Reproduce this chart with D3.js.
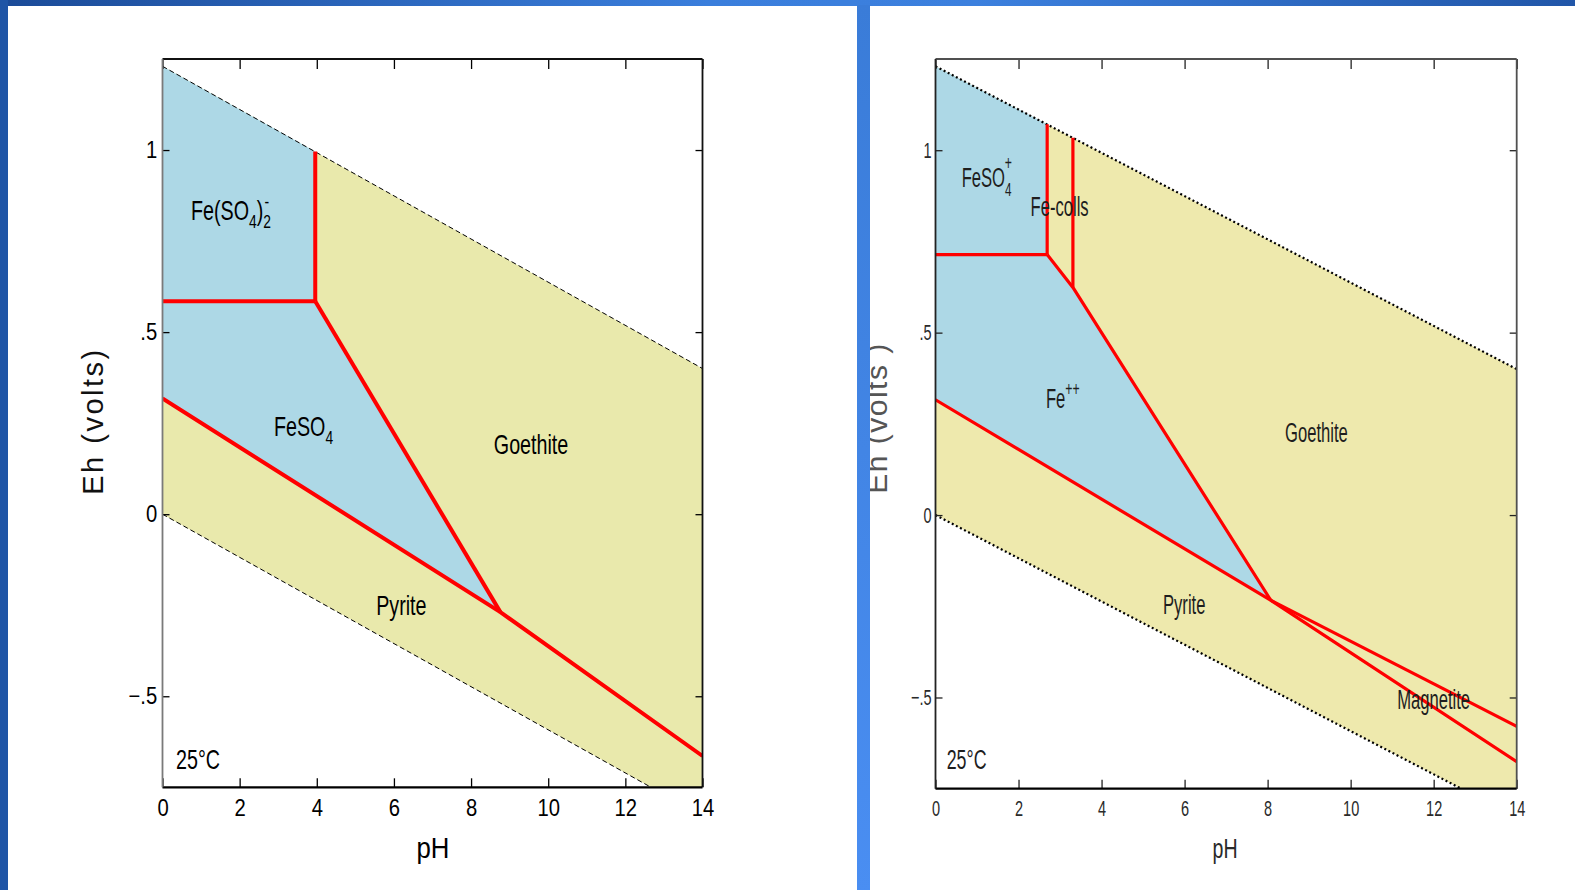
<!DOCTYPE html>
<html>
<head>
<meta charset="utf-8">
<script src="https://cdn.jsdelivr.net/npm/d3@7"></script>
<style>
  html, body { margin: 0; padding: 0; background: #fff; }
  svg { display: block; }
</style>
</head>
<body>
<svg id="chart" width="1575" height="890"></svg>
<script>
// ---- shared axis values ----
const pHTicks = [0, 2, 4, 6, 8, 10, 12, 14];
const ehTicks = [-0.5, 0, 0.5, 1];
const ehTickLabels = ["\u2212.5", "0", ".5", "1"];
const pHDomain = [0, 14];
const ehDomain = [-0.75, 1.25];

// water stability limits (Eh = 1.23 - 0.0592 pH and Eh = -0.0592 pH)
const waterUpper = [[0, 1.23], [14, 0.40]];
const waterLower = [[0, 0.0], [14, -0.829]];

// ---- Fe-S-O system, sulfate species (left diagram) ----
const leftSulfateSplit = [[0, 0.585], [3.96, 0.585]];
const leftGoethiteVertical = [[3.96, 0.996], [3.96, 0.585]];
const leftGoethiteEdge = [[3.96, 0.585], [8.76, -0.269]];
const leftPyriteEdge = [[0, 0.318], [8.76, -0.269], [14, -0.664]];
const leftAqueousFields = [
  [[0, 1.23], [3.96, 0.996], [3.96, 0.585], [0, 0.585]],
  [[0, 0.585], [3.96, 0.585], [8.76, -0.269], [0, 0.318]]
];

// ---- Fe-S-O system with colloids and magnetite (right diagram) ----
const rightSulfateSplit = [[0, 0.714], [2.69, 0.714]];
const rightColloidLeft = [[2.69, 1.071], [2.69, 0.714]];
const rightColloidRight = [[3.31, 1.034], [3.31, 0.624]];
const rightFerrousEdge = [[2.69, 0.714], [3.31, 0.624], [8.08, -0.234]];
const rightPyriteEdge = [[0, 0.316], [8.08, -0.234], [14, -0.676]];
const rightMagnetiteTop = [[8.08, -0.234], [14, -0.579]];
const rightAqueousFields = [
  [[0, 1.23], [2.69, 1.071], [2.69, 0.714], [0, 0.714]],
  [[0, 0.714], [2.69, 0.714], [3.31, 0.624], [8.08, -0.234], [0, 0.316]]
];

const W = 1575, H = 890;
const svg = d3.select("#chart");
const defs = svg.append("defs");

// ---- slide frame ----
const topGrad = defs.append("linearGradient").attr("id", "topGrad");
[["0%", "#1b4b98"], ["45%", "#3a7edc"], ["62%", "#3c80de"], ["100%", "#2156a8"]]
  .forEach(([o, c]) => topGrad.append("stop").attr("offset", o).attr("stop-color", c));
const divGrad = defs.append("linearGradient").attr("id", "divGrad")
  .attr("x1", 0).attr("y1", 0).attr("x2", 0).attr("y2", 1);
[["0%", "#3a7cd8"], ["100%", "#4a8ef2"]]
  .forEach(([o, c]) => divGrad.append("stop").attr("offset", o).attr("stop-color", c));

svg.append("rect").attr("width", W).attr("height", H).attr("fill", "#fff");

// Helvetica-style face, horizontally compressed where the diagram uses condensed type
const FACE = "'Liberation Sans',Arial,Helvetica,sans-serif";

// text helper: compressed label at a pixel anchor
function label(g, x, y, parts, opt) {
  const grp = g.append("g")
    .attr("transform", `translate(${x},${y}) scale(${opt.sx},1)`);
  const t = grp.append("text")
    .attr("font-family", FACE)
    .attr("font-size", opt.size)
    .attr("fill", opt.fill)
    .attr("text-anchor", opt.anchor || "start");
  parts.forEach(p => {
    const ts = t.append("tspan").text(p.t);
    if (p.size) ts.attr("font-size", p.size);
    if (p.dy) ts.attr("dy", p.dy);
    if (p.dx) ts.attr("dx", p.dx);
  });
  return t;
}

function drawPanel(cfg) {
  const x = d3.scaleLinear().domain(pHDomain).range([cfg.left, cfg.right]);
  const y = d3.scaleLinear().domain(ehDomain).range([cfg.bottom, cfg.top]);
  const g = svg.append("g");
  const clipId = "clip" + cfg.id;
  defs.append("clipPath").attr("id", clipId).append("rect")
    .attr("x", cfg.left).attr("y", cfg.top)
    .attr("width", cfg.right - cfg.left).attr("height", cfg.bottom - cfg.top);

  const line = d3.line().x(d => x(d[0])).y(d => y(d[1]));
  const plot = g.append("g").attr("clip-path", `url(#${clipId})`);

  // stability field of water: solids (yellow)
  plot.append("path")
    .attr("d", line([waterUpper[0], waterUpper[1], waterLower[1], waterLower[0]]) + "Z")
    .attr("fill", cfg.yellow);
  // aqueous fields (blue)
  cfg.fields.forEach(f => plot.append("path")
    .attr("d", line(f) + "Z").attr("fill", "#add8e6"));

  // water limits
  [waterUpper, waterLower].forEach(w => plot.append("path")
    .attr("d", line(w)).attr("fill", "none")
    .attr("stroke", "#000").attr("stroke-width", cfg.waterWidth)
    .attr("stroke-dasharray", cfg.waterDash));

  // phase boundaries
  cfg.boundaries.forEach(b => plot.append("path")
    .attr("d", line(b)).attr("fill", "none")
    .attr("stroke", "#ff0000").attr("stroke-width", cfg.redWidth)
    .attr("stroke-linejoin", "round"));

  // axes with inward ticks
  const bottom = g.append("g").attr("transform", `translate(0,${cfg.bottom})`)
    .call(d3.axisBottom(x).tickValues(pHTicks).tickSizeInner(-9).tickSizeOuter(0)
      .tickPadding(cfg.xPad).tickFormat(d3.format("d")));
  const leftAx = g.append("g").attr("transform", `translate(${cfg.left},0)`)
    .call(d3.axisLeft(y).tickValues(ehTicks).tickSizeInner(-7).tickSizeOuter(0)
      .tickPadding(6).tickFormat((d, i) => ehTickLabels[i]));
  const topAx = g.append("g").attr("transform", `translate(0,${cfg.top})`)
    .call(d3.axisTop(x).tickValues(pHTicks).tickSizeInner(-10).tickSizeOuter(0).tickFormat(""));
  const rightAx = g.append("g").attr("transform", `translate(${cfg.right},0)`)
    .call(d3.axisRight(y).tickValues(ehTicks).tickSizeInner(-7).tickSizeOuter(0).tickFormat(""));
  [bottom, leftAx, topAx, rightAx].forEach(a => {
    a.select(".domain").remove();
    a.selectAll(".tick line").attr("stroke", cfg.tickColor).attr("stroke-width", 1.3);
    a.selectAll("text")
      .attr("font-family", FACE).attr("font-size", cfg.tickSize)
      .attr("fill", cfg.textFill)
      .attr("transform", `scale(${cfg.tickSx},1)`);
  });

  // frame
  g.append("line").attr("x1", cfg.left).attr("x2", cfg.right).attr("y1", cfg.top).attr("y2", cfg.top)
    .attr("stroke", cfg.frameTop).attr("stroke-width", 1.8);
  g.append("line").attr("x1", cfg.right).attr("x2", cfg.right).attr("y1", cfg.top).attr("y2", cfg.bottom)
    .attr("stroke", cfg.frameTop).attr("stroke-width", 1.8);
  g.append("line").attr("x1", cfg.left).attr("x2", cfg.right).attr("y1", cfg.bottom).attr("y2", cfg.bottom)
    .attr("stroke", "#000").attr("stroke-width", 2.2);
  g.append("line").attr("x1", cfg.left).attr("x2", cfg.left).attr("y1", cfg.top).attr("y2", cfg.bottom)
    .attr("stroke", cfg.frameLeft).attr("stroke-width", 1.8);

  return { g, x, y };
}

// ---- left diagram ----
const L = drawPanel({
  id: "L", left: 162.5, right: 702.5, top: 59, bottom: 787.3,
  yellow: "#e9e9ac", fields: leftAqueousFields,
  boundaries: [leftSulfateSplit, leftGoethiteVertical, leftGoethiteEdge, leftPyriteEdge],
  waterWidth: 1, waterDash: "5,3", redWidth: 4,
  xPad: 12, tickSize: 23, tickSx: 0.88, textFill: "#000", tickColor: "#000",
  frameTop: "#111", frameLeft: "#7a7a7a"
});
{
  const s = { size: 27, sx: 0.73, fill: "#000" };
  label(L.g, L.x(0.74), L.y(0.809), [
    { t: "Fe(SO" }, { t: "4", size: 19, dy: 8 }, { t: ")", dy: -8 },
    { t: "2", size: 19, dy: 8 }, { t: "-", size: 19, dx: -9, dy: -20 }
  ], s);
  label(L.g, L.x(2.89), L.y(0.216), [{ t: "FeSO" }, { t: "4", size: 19, dy: 8 }], s);
  label(L.g, L.x(8.59), L.y(0.164), [{ t: "Goethite" }], s);
  label(L.g, L.x(5.54), L.y(-0.276), [{ t: "Pyrite" }], s);
  label(L.g, L.x(0.35), L.y(-0.699), [{ t: "25°C" }], s);
  label(L.g, 433, 858, [{ t: "pH" }], { size: 30, sx: 0.86, fill: "#000", anchor: "middle" });
  L.g.append("text")
    .attr("transform", "translate(103,421) rotate(-90)")
    .attr("text-anchor", "middle")
    .attr("font-family", FACE).attr("font-size", 29)
    .attr("letter-spacing", 2.5).attr("fill", "#111")
    .text("Eh (volts)");
}

// ---- right diagram ----
const R = drawPanel({
  id: "R", left: 935.5, right: 1516.7, top: 59, bottom: 788.7,
  yellow: "#eee9ad", fields: rightAqueousFields,
  boundaries: [rightSulfateSplit, rightColloidLeft, rightColloidRight, rightFerrousEdge,
               rightPyriteEdge, rightMagnetiteTop],
  waterWidth: 2.2, waterDash: "2,2.6", redWidth: 3.2,
  xPad: 12, tickSize: 22, tickSx: 0.66, textFill: "#2a2a2a", tickColor: "#222",
  frameTop: "#505050", frameLeft: "#222"
});
{
  const s = { size: 27, sx: 0.615, fill: "#1e1e1e" };
  label(R.g, R.x(0.63), R.y(0.900), [
    { t: "FeSO" }, { t: "4", size: 19, dy: 9 }, { t: "+", size: 20, dx: -11, dy: -26 }
  ], s);
  label(R.g, R.x(2.29), R.y(0.820), [{ t: "Fe-colls" }], s);
  label(R.g, R.x(2.66), R.y(0.293), [{ t: "Fe" }, { t: "++", size: 20, dy: -12 }], s);
  label(R.g, R.x(8.42), R.y(0.199), [{ t: "Goethite" }], s);
  label(R.g, R.x(5.48), R.y(-0.270), [{ t: "Pyrite" }], s);
  label(R.g, R.x(11.12), R.y(-0.531), [{ t: "Magnetite" }], s);
  label(R.g, R.x(0.27), R.y(-0.696), [{ t: "25°C" }], { size: 27, sx: 0.66, fill: "#1e1e1e" });
  label(R.g, 1225, 858, [{ t: "pH" }], { size: 28, sx: 0.7, fill: "#2a2a2a", anchor: "middle" });
  R.g.append("text")
    .attr("transform", "translate(887,418) rotate(-90)")
    .attr("text-anchor", "middle")
    .attr("font-family", FACE).attr("font-size", 30)
    .attr("letter-spacing", 1.5).attr("fill", "#555")
    .text("Eh (volts )");
}

// ---- slide borders drawn last so they sit on top ----
svg.append("rect").attr("x", 0).attr("y", 0).attr("width", W).attr("height", 6).attr("fill", "url(#topGrad)");
svg.append("rect").attr("x", 0).attr("y", 0).attr("width", 8).attr("height", H).attr("fill", "#1f55a6");
svg.append("rect").attr("x", 857).attr("y", 5).attr("width", 13).attr("height", H).attr("fill", "url(#divGrad)");
</script>
</body>
</html>
